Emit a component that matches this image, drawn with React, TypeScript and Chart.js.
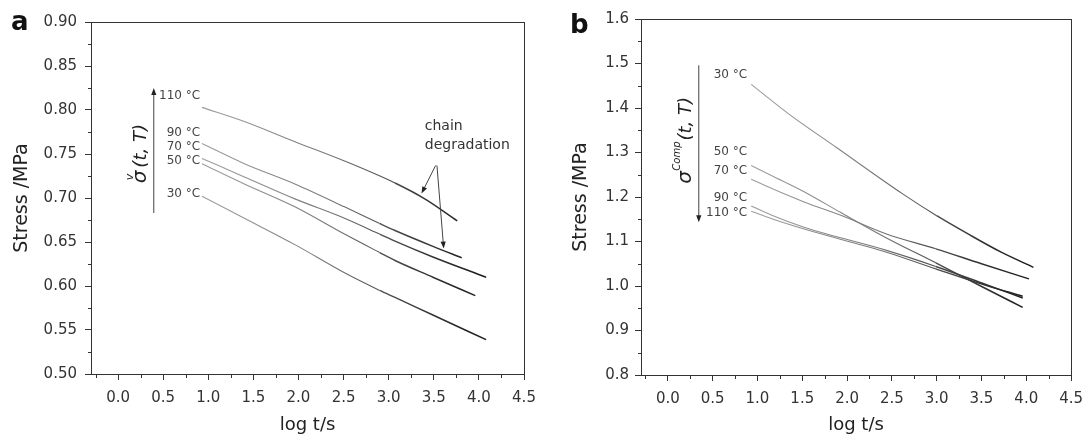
import React, { useEffect, useRef } from 'react';
import { Chart, registerables } from 'chart.js';

Chart.register(...registerables);

// ---------- data: panel a (viscous stress) ----------
const A_X_110 = [0.93, 1.4, 1.96, 2.51, 3.07, 3.4, 3.76];
const A_Y_110 = [0.803, 0.787, 0.764, 0.742, 0.717, 0.699, 0.674];
const A_X_90 = [0.93, 1.4, 1.96, 2.51, 2.9, 3.07, 3.49, 3.81];
const A_Y_90 = [0.762, 0.739, 0.716, 0.69, 0.671, 0.663, 0.645, 0.632];
const A_X_70 = [0.93, 1.4, 1.96, 2.51, 2.9, 3.07, 3.49, 4.08];
const A_Y_70 = [0.745, 0.724, 0.699, 0.677, 0.659, 0.651, 0.633, 0.61];
const A_X_50 = [0.93, 1.4, 1.96, 2.51, 2.9, 3.07, 3.49, 3.96];
const A_Y_50 = [0.739, 0.716, 0.69, 0.659, 0.638, 0.629, 0.61, 0.589];
const A_X_30 = [0.93, 1.4, 1.96, 2.51, 2.9, 3.07, 3.49, 4.08];
const A_Y_30 = [0.702, 0.677, 0.647, 0.615, 0.595, 0.587, 0.567, 0.539];

// ---------- data: panel b (compensated stress) ----------
const B_X_30 = [0.93, 1.34, 1.89, 2.62, 3.0, 3.35, 3.72, 4.08];
const B_Y_30 = [1.453, 1.388, 1.31, 1.207, 1.158, 1.117, 1.076, 1.042];
const B_X_50 = [0.93, 1.16, 1.52, 1.93, 2.44, 2.99, 3.54, 3.96];
const B_Y_50 = [1.271, 1.248, 1.212, 1.165, 1.108, 1.052, 0.995, 0.952];
const B_X_70 = [0.93, 1.16, 1.52, 1.93, 2.44, 2.99, 3.5, 4.03];
const B_Y_70 = [1.24, 1.219, 1.189, 1.159, 1.117, 1.0835, 1.05, 1.016];
const B_X_90 = [0.93, 1.16, 1.52, 2.44, 2.99, 3.54, 3.96];
const B_Y_90 = [1.18, 1.159, 1.132, 1.08, 1.044, 1.004, 0.973];
const B_X_110 = [0.93, 1.16, 1.52, 2.44, 2.99, 3.54, 3.96];
const B_Y_110 = [1.168, 1.151, 1.128, 1.076, 1.0385, 1.002, 0.977];

// ---------- ticks ----------
const X_TICKS = [0, 0.5, 1, 1.5, 2, 2.5, 3, 3.5, 4, 4.5];
const X_MINOR = [-0.25, 0.25, 0.75, 1.25, 1.75, 2.25, 2.75, 3.25, 3.75, 4.25];
const A_Y_TICKS = [0.5, 0.55, 0.6, 0.65, 0.7, 0.75, 0.8, 0.85, 0.9];
const A_Y_MINOR = [0.525, 0.575, 0.625, 0.675, 0.725, 0.775, 0.825, 0.875];
const B_Y_TICKS = [0.8, 0.9, 1.0, 1.1, 1.2, 1.3, 1.4, 1.5, 1.6];
const B_Y_MINOR = [0.85, 0.95, 1.05, 1.15, 1.25, 1.35, 1.45, 1.55];

// ---------- labels ----------
const A_TEMPS = ['110 °C', '90 °C', '70 °C', '50 °C', '30 °C'];
const B_TEMPS = ['30 °C', '50 °C', '70 °C', '90 °C', '110 °C'];
const X_TITLE = 'log t/s';
const Y_TITLE = 'Stress /MPa';
const CHAIN_TEXT = ['chain', 'degradation'];

// annotation placement (data units)
const A_TEMP_POS = { x: 0.91, ys: [0.8156, 0.7743, 0.758, 0.7417, 0.705] };
const B_TEMP_POS = { x: 0.885, ys: [1.474, 1.301, 1.258, 1.198, 1.165] };

const FONT = 'DejaVu Sans';

type Arrow = { x1: number; y1: number; x2: number; y2: number };
type PanelCfg = {
  series: { label: string; xs: number[]; ys: number[] }[];
  yMin: number;
  yMax: number;
  yTicks: number[];
  yMinor: number[];
  yDigits: number;
  padTop: number;
  padRight: number;
  yWidth: number;
  xHeight: number;
  yTitlePad: number;
  yTickPad: number;
  temps: string[];
  tempPos: { x: number; ys: number[] };
  arrows: Arrow[];
  texts: { text: string; x: number; y: number }[];
  sigma: { x: number; y: number; sup: string; supSize: number; supDx: number; supDy: number; after: boolean };
  panel: { text: string; px: number; py: number };
};

function lineGradient(ctx: any) {
  const ch = ctx.chart;
  const a = ch.chartArea;
  if (!a) return '#666';
  const g = ch.ctx.createLinearGradient(a.left, 0, a.right, 0);
  g.addColorStop(0, '#a5a5a5');
  g.addColorStop(0.3, '#9c9c9c');
  g.addColorStop(0.55, '#777777');
  g.addColorStop(0.75, '#3c3c3c');
  g.addColorStop(0.9, '#1c1c1c');
  g.addColorStop(1, '#1c1c1c');
  return g;
}

function drawArrow(ctx: CanvasRenderingContext2D, x1: number, y1: number, x2: number, y2: number) {
  const ang = Math.atan2(y2 - y1, x2 - x1);
  const len = 7;
  const hw = 2.6;
  ctx.beginPath();
  ctx.moveTo(x1, y1);
  ctx.lineTo(x2 - Math.cos(ang) * (len - 1), y2 - Math.sin(ang) * (len - 1));
  ctx.stroke();
  ctx.beginPath();
  ctx.moveTo(x2, y2);
  ctx.lineTo(x2 - Math.cos(ang) * len - Math.sin(ang) * hw, y2 - Math.sin(ang) * len + Math.cos(ang) * hw);
  ctx.lineTo(x2 - Math.cos(ang) * len + Math.sin(ang) * hw, y2 - Math.sin(ang) * len - Math.cos(ang) * hw);
  ctx.closePath();
  ctx.fill();
}

function overlayPlugin(cfg: PanelCfg) {
  return {
    id: 'overlay',
    afterDraw(chart: any) {
      const ctx: CanvasRenderingContext2D = chart.ctx;
      const xs = chart.scales.x;
      const ys = chart.scales.y;
      const a = chart.chartArea;
      ctx.save();
      // frame
      ctx.strokeStyle = '#333';
      ctx.lineWidth = 1;
      const l = Math.round(a.left) + 0.5;
      const t = Math.round(a.top) + 0.5;
      const r = Math.round(a.right) + 0.5;
      const b = Math.round(a.bottom) + 0.5;
      ctx.strokeRect(l, t, r - l, b - t);
      // minor ticks
      ctx.beginPath();
      X_MINOR.forEach((v) => {
        const p = Math.round(xs.getPixelForValue(v)) + 0.5;
        ctx.moveTo(p, b);
        ctx.lineTo(p, b + 3.5);
      });
      cfg.yMinor.forEach((v) => {
        const p = Math.round(ys.getPixelForValue(v)) + 0.5;
        ctx.moveTo(l, p);
        ctx.lineTo(l - 3.5, p);
      });
      ctx.stroke();

      // temperature labels
      ctx.fillStyle = '#444';
      ctx.font = `12px "${FONT}"`;
      ctx.textAlign = 'right';
      ctx.textBaseline = 'middle';
      cfg.temps.forEach((txt, i) => {
        ctx.fillText(txt, xs.getPixelForValue(cfg.tempPos.x), ys.getPixelForValue(cfg.tempPos.ys[i]));
      });

      // other texts
      ctx.fillStyle = '#333';
      ctx.font = `14px "${FONT}"`;
      ctx.textAlign = 'left';
      cfg.texts.forEach((tx) => {
        ctx.fillText(tx.text, xs.getPixelForValue(tx.x), ys.getPixelForValue(tx.y));
      });

      // arrows
      ctx.strokeStyle = '#444';
      ctx.fillStyle = '#222';
      ctx.lineWidth = 1;
      cfg.arrows.forEach((ar) => {
        drawArrow(
          ctx,
          xs.getPixelForValue(ar.x1),
          ys.getPixelForValue(ar.y1),
          xs.getPixelForValue(ar.x2),
          ys.getPixelForValue(ar.y2)
        );
      });

      // sigma label (rotated)
      const sg = cfg.sigma;
      ctx.save();
      ctx.translate(xs.getPixelForValue(sg.x), ys.getPixelForValue(sg.y));
      ctx.rotate(-Math.PI / 2);
      ctx.fillStyle = '#222';
      ctx.textAlign = 'left';
      ctx.textBaseline = 'alphabetic';
      ctx.font = `italic 20px "${FONT}"`;
      ctx.fillText('σ', 0, 0);
      const w = ctx.measureText('σ').width;
      ctx.font = `italic ${sg.supSize}px "${FONT}"`;
      ctx.fillText(sg.sup, sg.supDx, sg.supDy);
      const sw = ctx.measureText(sg.sup).width;
      ctx.font = `italic 18px "${FONT}"`;
      const startX = sg.after ? sg.supDx + sw + 1 : w + 3;
      ctx.fillText('(t, T)', startX, 0);
      ctx.restore();

      // panel letter
      ctx.fillStyle = '#111';
      ctx.font = `bold 26px "${FONT}"`;
      ctx.textAlign = 'left';
      ctx.textBaseline = 'alphabetic';
      ctx.fillText(cfg.panel.text, cfg.panel.px, cfg.panel.py);
      ctx.restore();
    },
  };
}

function makeChart(canvas: HTMLCanvasElement, cfg: PanelCfg) {
  return new Chart(canvas, {
    type: 'scatter',
    data: {
      datasets: cfg.series.map((s) => ({
        label: s.label,
        data: s.xs.map((x, i) => ({ x, y: s.ys[i] })),
        showLine: true,
        pointRadius: 0,
        borderWidth: 1.2,
        borderColor: lineGradient as any,
        backgroundColor: 'transparent',
        tension: 0.4,
        cubicInterpolationMode: 'monotone' as const,
        segment: {
          borderWidth: (c: any) => (c.p0.parsed.x >= 2.8 ? 1.5 : 1.1),
        },
      })),
    },
    options: {
      animation: false,
      responsive: false,
      events: [],
      layout: { padding: { left: 0, top: cfg.padTop, right: cfg.padRight, bottom: 0 } },
      plugins: { legend: { display: false }, tooltip: { enabled: false } },
      scales: {
        x: {
          type: 'linear',
          min: -0.3,
          max: 4.5,
          afterBuildTicks: (s: any) => {
            s.ticks = X_TICKS.map((v) => ({ value: v }));
          },
          afterFit: (s: any) => {
            s.height = cfg.xHeight;
          },
          border: { display: false },
          grid: { display: true, drawOnChartArea: false, drawTicks: true, tickLength: 6, color: '#333', lineWidth: 1 },
          ticks: {
            autoSkip: false,
            maxRotation: 0,
            padding: 9,
            color: '#333',
            font: { family: FONT, size: 15 },
            callback: (v: any) => Number(v).toFixed(1),
          },
          title: {
            display: true,
            text: X_TITLE,
            color: '#222',
            font: { family: FONT, size: 18 },
            padding: { top: 0, bottom: 1 },
          },
        },
        y: {
          type: 'linear',
          min: cfg.yMin,
          max: cfg.yMax,
          afterBuildTicks: (s: any) => {
            s.ticks = cfg.yTicks.map((v) => ({ value: v }));
          },
          afterFit: (s: any) => {
            s.width = cfg.yWidth;
          },
          border: { display: false },
          grid: { display: true, drawOnChartArea: false, drawTicks: true, tickLength: 6, color: '#333', lineWidth: 1 },
          ticks: {
            autoSkip: false,
            padding: cfg.yTickPad,
            color: '#333',
            font: { family: FONT, size: 15 },
            callback: (v: any) => Number(v).toFixed(cfg.yDigits),
          },
          title: {
            display: true,
            text: Y_TITLE,
            color: '#222',
            font: { family: FONT, size: 19 },
            padding: { top: cfg.yTitlePad, bottom: 0 },
          },
        },
      },
    } as any,
    plugins: [overlayPlugin(cfg)],
  });
}

const PANEL_A: PanelCfg = {
  series: [
    { label: '110 °C', xs: A_X_110, ys: A_Y_110 },
    { label: '90 °C', xs: A_X_90, ys: A_Y_90 },
    { label: '70 °C', xs: A_X_70, ys: A_Y_70 },
    { label: '50 °C', xs: A_X_50, ys: A_Y_50 },
    { label: '30 °C', xs: A_X_30, ys: A_Y_30 },
  ],
  yMin: 0.5,
  yMax: 0.9,
  yTicks: A_Y_TICKS,
  yMinor: A_Y_MINOR,
  yDigits: 2,
  padTop: 22,
  padRight: 22,
  yWidth: 91,
  xHeight: 63,
  yTitlePad: 10.5,
  yTickPad: 8,
  temps: A_TEMPS,
  tempPos: A_TEMP_POS,
  arrows: [
    { x1: 0.396, y1: 0.683, x2: 0.396, y2: 0.825 },
    { x1: 3.52, y1: 0.737, x2: 3.364, y2: 0.705 },
    { x1: 3.535, y1: 0.737, x2: 3.61, y2: 0.6425 },
  ],
  texts: [
    { text: CHAIN_TEXT[0], x: 3.4, y: 0.781 },
    { text: CHAIN_TEXT[1], x: 3.4, y: 0.7594 },
  ],
  sigma: { x: 0.307, y: 0.7167, sup: 'v', supSize: 11, supDx: 3, supDy: -13, after: false },
  panel: { text: 'a', px: 11, py: 30 },
};

const PANEL_B: PanelCfg = {
  series: [
    { label: '30 °C', xs: B_X_30, ys: B_Y_30 },
    { label: '50 °C', xs: B_X_50, ys: B_Y_50 },
    { label: '70 °C', xs: B_X_70, ys: B_Y_70 },
    { label: '90 °C', xs: B_X_90, ys: B_Y_90 },
    { label: '110 °C', xs: B_X_110, ys: B_Y_110 },
  ],
  yMin: 0.8,
  yMax: 1.6,
  yTicks: B_Y_TICKS,
  yMinor: B_Y_MINOR,
  yDigits: 1,
  padTop: 19,
  padRight: 14,
  yWidth: 95,
  xHeight: 62,
  yTitlePad: 23.5,
  yTickPad: 6,
  temps: B_TEMPS,
  tempPos: B_TEMP_POS,
  arrows: [{ x1: 0.345, y1: 1.496, x2: 0.345, y2: 1.143 }],
  texts: [],
  sigma: { x: 0.253, y: 1.23, sup: 'Comp', supSize: 10, supDx: 13, supDy: -11, after: true },
  panel: { text: 'b', px: 24, py: 33 },
};

export default function App() {
  const refA = useRef<HTMLCanvasElement>(null);
  const refB = useRef<HTMLCanvasElement>(null);

  useEffect(() => {
    const ca = makeChart(refA.current as HTMLCanvasElement, PANEL_A);
    const cb = makeChart(refB.current as HTMLCanvasElement, PANEL_B);
    return () => {
      ca.destroy();
      cb.destroy();
    };
  }, []);

  return (
    <div style={{ position: 'fixed', left: 0, top: 0, width: 1092, height: 437, background: '#fff' }}>
      <canvas ref={refA} width={546} height={437} style={{ position: 'absolute', left: 0, top: 0, width: 546, height: 437 }} />
      <canvas ref={refB} width={546} height={437} style={{ position: 'absolute', left: 546, top: 0, width: 546, height: 437 }} />
    </div>
  );
}
